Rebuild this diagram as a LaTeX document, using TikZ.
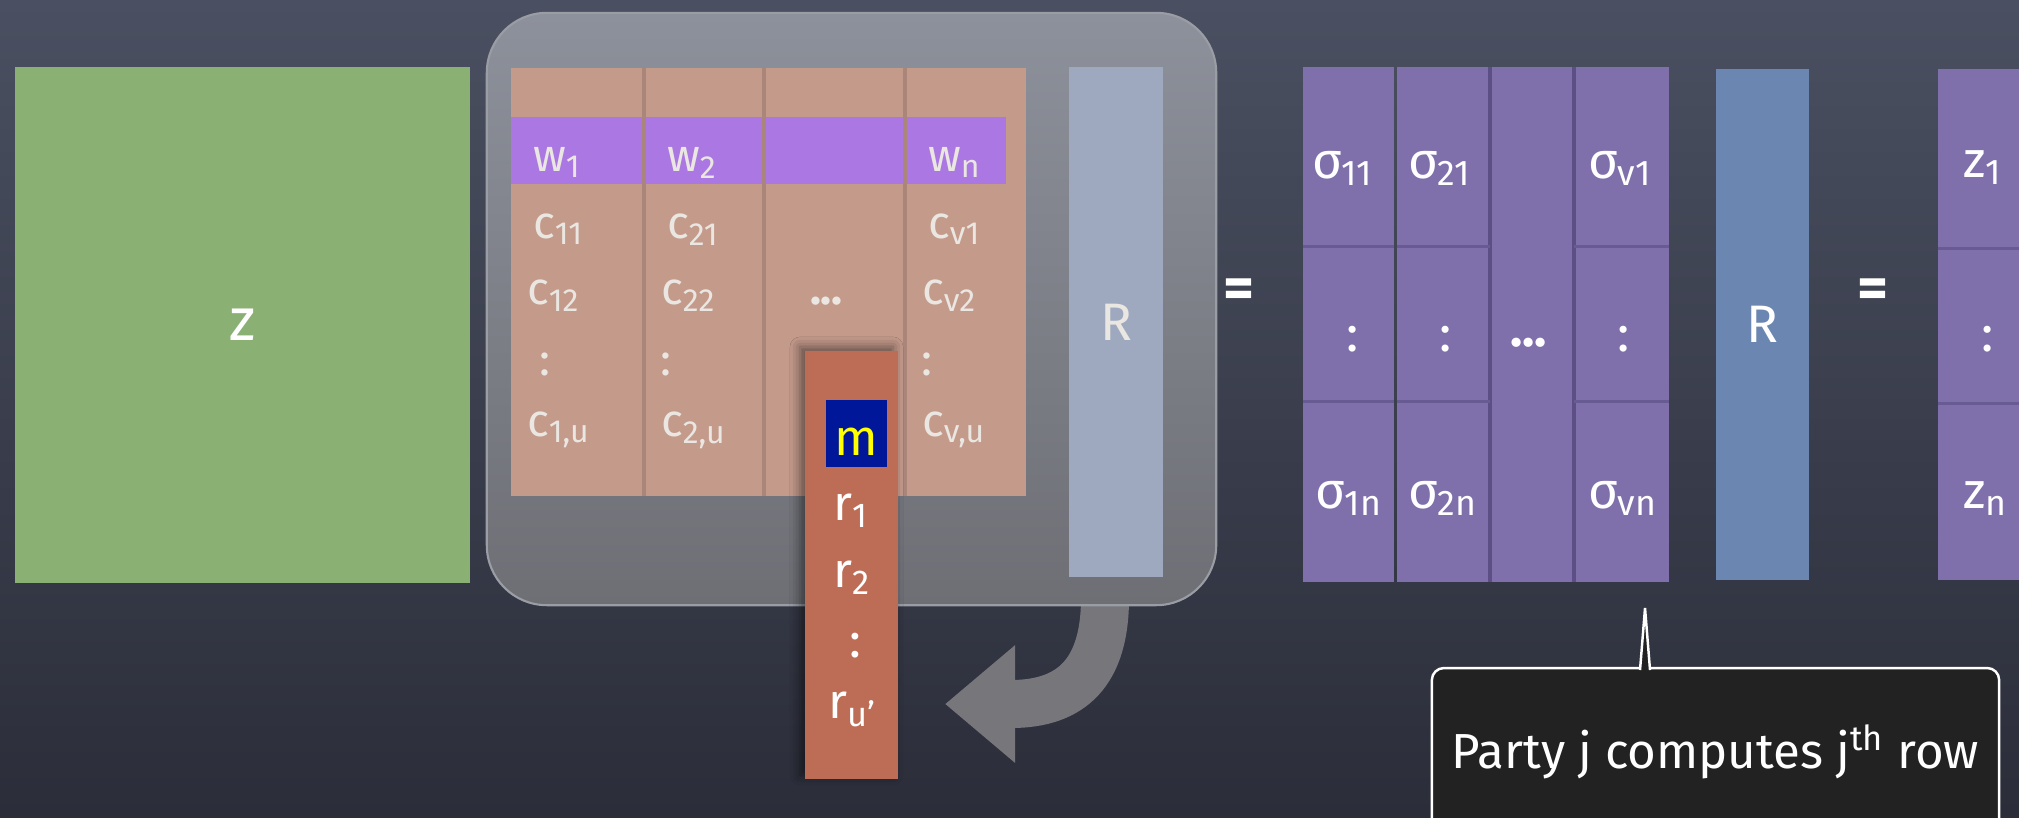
\documentclass[tikz,border=0pt]{standalone}
\usepackage{fontspec}
\setmainfont{Fira Sans}
\usepackage{tikz}
\usetikzlibrary{arrows.meta,calc,positioning,shadows.blur}
\definecolor{boardtop}{HTML}{4A5061}
\definecolor{boardbot}{HTML}{2B2D39}
\definecolor{zgreen}{HTML}{8BB073}
\definecolor{paneltop}{HTML}{8D919B}
\definecolor{panelbot}{HTML}{6E6F75}
\definecolor{paneledge}{HTML}{9A9DA4}
\definecolor{arrowgray}{HTML}{77777B}
\definecolor{cipher}{HTML}{C49A8B}
\definecolor{cipherline}{HTML}{A9857A}
\definecolor{wband}{HTML}{AB77E2}
\definecolor{rand}{HTML}{BD6D56}
\definecolor{msgbox}{HTML}{00179A}
\definecolor{msgtext}{HTML}{FFFF00}
\definecolor{rpale}{HTML}{9EA9BF}
\definecolor{rsteel}{HTML}{6B86B0}
\definecolor{share}{HTML}{7F6FAB}
\definecolor{shareline}{HTML}{685A93}
\definecolor{shareedge}{HTML}{5C4F86}
\definecolor{chalk}{HTML}{EAE6E1}
\definecolor{notebg}{HTML}{222222}

\begin{document}
\begin{tikzpicture}[x=0.01cm,y=-0.01cm,inner sep=0pt,outer sep=0pt]
    \tikzstyle{zbox}=[fill=zgreen,text=white,minimum width=4.55cm,minimum height=5.16cm,font=\fontsize{17}{20}\selectfont]
    \tikzstyle{panel}=[top color=paneltop,bottom color=panelbot,draw=paneledge,line width=0.6pt,rounded corners=0.6cm,minimum width=7.29cm,minimum height=5.92cm]
    \tikzstyle{pcol}=[fill=cipher,minimum height=4.28cm]
    \tikzstyle{colsep}=[draw=cipherline,line width=1.2pt]
    \tikzstyle{plbl}=[text=chalk,anchor=base west,font=\fontsize{13}{15}\selectfont]
    \tikzstyle{rcol}=[fill=rand,minimum width=0.93cm,minimum height=4.28cm,blur shadow={shadow xshift=-0.05cm,shadow yshift=0.04cm,shadow blur radius=0.1cm,shadow opacity=50}]
    \tikzstyle{rlbl}=[text=white,anchor=base west,font=\fontsize{14}{16}\selectfont]
    \tikzstyle{tallR}=[minimum width=0.93cm,minimum height=5.10cm,font=\fontsize{15}{18}\selectfont]
    \tikzstyle{scol}=[fill=share,minimum height=5.14cm]
    \tikzstyle{slbl}=[text=white,anchor=base west,font=\fontsize{14.5}{17}\selectfont]
    \tikzstyle{rowline}=[draw=shareline,line width=1pt]
    \tikzstyle{sharesep}=[draw=shareedge,line width=1.2pt]
    \tikzstyle{eqsign}=[text=white,font=\fontsize{17}{20}\selectfont\bfseries]
    \tikzstyle{note}=[fill=notebg,draw=white,line width=0.7pt,rounded corners=0.12cm,text=white,minimum width=5.67cm,minimum height=1.68cm,font=\fontsize{14}{17}\selectfont]
    \useasboundingbox (0,0) rectangle (2019,817);
    \clip (0,0) rectangle (2019,817);
    \shade[top color=boardtop,bottom color=boardbot] (0,0) rectangle (2019,817);
    % secret matrix
    \node[zbox] (zmat) at (242.5,325) {z};
    % curved arrow under the panel
    \coordinate (arrs) at (1105,598);
    \coordinate (arre) at (945,704);
    \draw[-{Triangle[length=0.7cm,width=1.13cm]},color=arrowgray,line width=0.48cm] (arrs) .. controls (1105,672) and (1072,704) .. (arre);
    \node[panel] (box) at (851.5,309) {};
    % ciphertext columns
    \node[pcol,minimum width=1.33cm] (p1) at (577.5,282) {};
    \node[pcol,minimum width=1.20cm,right=0pt of p1] (p2) {};
    \node[pcol,minimum width=1.41cm,right=0pt of p2] (p3) {};
    \node[pcol,minimum width=1.21cm,right=0pt of p3] (p4) {};
    \node[fill=wband,minimum width=4.95cm,minimum height=0.67cm,anchor=north west] (band) at ($(p1.north west)+(0,49)$) {};
    \draw[colsep] (p2.north west) -- (p2.south west);
    \draw[colsep] (p3.north west) -- (p3.south west);
    \draw[colsep] (p4.north west) -- (p4.south west);
    \node[plbl] (w1) at (533,171) {w\textsubscript{1}};
    \node[plbl] (w2) at (667,171) {w\textsubscript{2}};
    \node[plbl] (wn) at (928,171) {w\textsubscript{n}};
    \node[plbl] (c11) at (533,238) {c\textsubscript{11}};
    \node[plbl] (c21) at (667,238) {c\textsubscript{21}};
    \node[plbl] (cv1) at (928,238) {c\textsubscript{v1}};
    \node[plbl] (c12) at (527,304) {c\textsubscript{12}};
    \node[plbl] (c22) at (661,304) {c\textsubscript{22}};
    \node[plbl] (pdots) at (810,304) {\textbf{...}};
    \node[plbl] (cv2) at (922,304) {c\textsubscript{v2}};
    \node[plbl] (pc1) at (539,375) {:};
    \node[plbl] (pc2) at (660,375) {:};
    \node[plbl] (pc4) at (921,375) {:};
    \node[plbl] (c1u) at (527,436) {c\textsubscript{1,u}};
    \node[plbl] (c2u) at (661,436) {c\textsubscript{2,u}};
    \node[plbl] (cvu) at (922,436) {c\textsubscript{v,u}};
    % randomness column
    \node[rcol] (rc) at (851.5,565) {};
    \node[fill=msgbox,text=msgtext,minimum width=0.61cm,minimum height=0.67cm,text height=0.43cm,text depth=0pt,font=\fontsize{14.5}{17}\selectfont] (m) at (856.5,433.5) {m};
    \node[rlbl] (r1) at (833,520) {r\textsubscript{1}};
    \node[rlbl] (r2) at (833,587) {r\textsubscript{2}};
    \node[rlbl] (rdots) at (849,657) {:};
    \node[rlbl] (ru) at (828,718) {r\textsubscript{u’}};
    \node[tallR,fill=rpale,text=chalk] (R1) at (1116,322) {R};
    \node[eqsign] (eq1) at (1239,294) {=};
    % shares
    \node[scol,minimum width=0.91cm] (s1) at (1348.5,324.5) {};
    \node[scol,minimum width=0.93cm,right=0.03cm of s1] (s2) {};
    \node[scol,minimum width=0.84cm,right=0pt of s2] (s3) {};
    \node[scol,minimum width=0.95cm,right=0pt of s3] (s4) {};
    \draw[sharesep] (s3.north west) -- (s3.south west);
    \draw[sharesep] (s4.north west) -- (s4.south west);
    \draw[rowline] ($(s1.north west)+(0,179)$) -- ($(s1.north east)+(0,179)$);
    \draw[rowline] ($(s1.north west)+(0,334)$) -- ($(s1.north east)+(0,334)$);
    \draw[rowline] ($(s2.north west)+(0,179)$) -- ($(s2.north east)+(0,179)$);
    \draw[rowline] ($(s2.north west)+(0,334)$) -- ($(s2.north east)+(0,334)$);
    \draw[rowline] ($(s4.north west)+(0,179)$) -- ($(s4.north east)+(0,179)$);
    \draw[rowline] ($(s4.north west)+(0,334)$) -- ($(s4.north east)+(0,334)$);
    \node[slbl] (s11) at (1312,178) {σ\textsubscript{11}};
    \node[slbl] (s21) at (1408,178) {σ\textsubscript{21}};
    \node[slbl] (sv1) at (1588,178) {σ\textsubscript{v1}};
    \node[slbl] (sc1) at (1346,351) {:};
    \node[slbl] (sc2) at (1439,351) {:};
    \node[slbl] (sdots) at (1510,346) {\textbf{...}};
    \node[slbl] (sc4) at (1617,351) {:};
    \node[slbl] (s1n) at (1315,508) {σ\textsubscript{1n}};
    \node[slbl] (s2n) at (1408,508) {σ\textsubscript{2n}};
    \node[slbl] (svn) at (1588,508) {σ\textsubscript{vn}};
    \node[tallR,fill=rsteel,text=white,right=0.47cm of s4] (R2) {R};
    \node[eqsign] (eq2) at (1873,294) {=};
    % result column
    \node[scol,minimum width=1.0cm,minimum height=5.10cm,right=1.29cm of R2] (zc) {};
    \draw[rowline] ($(zc.north west)+(0,179)$) -- ($(zc.north east)+(0,179)$);
    \draw[rowline] ($(zc.north west)+(0,334)$) -- ($(zc.north east)+(0,334)$);
    \node[slbl] (z1) at (1963,177) {z\textsubscript{1}};
    \node[slbl] (zdots) at (1981,351) {:};
    \node[slbl] (zn) at (1963,508) {z\textsubscript{n}};
    % callout
    \node[note,anchor=north] (note) at (1715.5,668) {Party j computes j\textsuperscript{th} row};
    \coordinate (ptip) at (1645,608);
    \filldraw[fill=notebg,draw=white,line width=0.7pt] ($(note.north)+(-75.5,2)$) -- (ptip) -- ($(note.north)+(-65.5,2)$);
\end{tikzpicture}
\end{document}
